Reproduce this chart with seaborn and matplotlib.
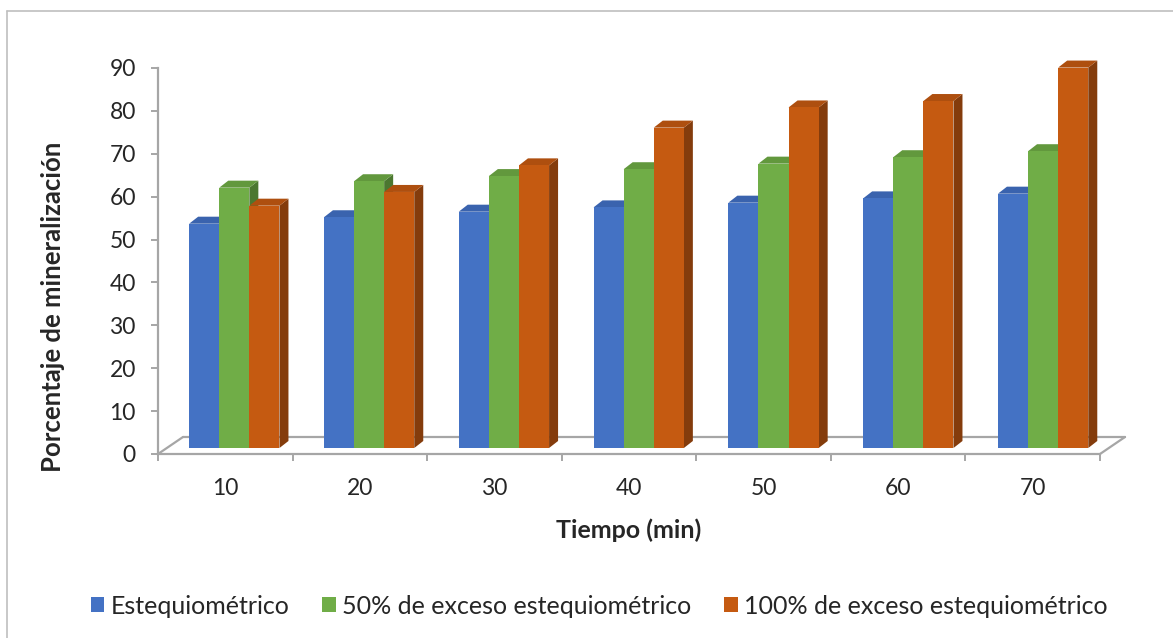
import numpy as np
import pandas as pd
import seaborn as sns
import matplotlib
matplotlib.use("Agg")
import matplotlib.pyplot as plt
from matplotlib.patches import Polygon, Patch
from matplotlib.lines import Line2D
from matplotlib.transforms import ScaledTranslation

# ---------------- data ----------------
tiempos = ["10", "20", "30", "40", "50", "60", "70"]
series = ["Estequiométrico", "50% de exceso estequiométrico", "100% de exceso estequiométrico"]
esteq = [52.3, 53.8, 55.1, 56.1, 57.2, 58.2, 59.3]
exc50 = [60.7, 62.2, 63.4, 65.0, 66.3, 67.8, 69.2]
exc100 = [56.5, 59.7, 65.9, 74.7, 79.4, 80.9, 88.7]
yticks = [0, 10, 20, 30, 40, 50, 60, 70, 80, 90]

front_cols = ["#4472C4", "#70AD47", "#C55A11"]
top_cols = ["#3A63AE", "#62983D", "#AE4F0F"]
side_cols = ["#2C4C86", "#4B7730", "#843C0C"]

df = pd.DataFrame({
    "Tiempo": tiempos * 3,
    "valor": esteq + exc50 + exc100,
    "Serie": [series[0]] * 7 + [series[1]] * 7 + [series[2]] * 7,
})

sns.set_style("white")
plt.rcParams["font.family"] = ["Lato", "DejaVu Sans"]

W, H = 1173, 638
fig = plt.figure(figsize=(W / 100, H / 100), dpi=100)
ax = fig.add_axes([158 / W, 1 - 454 / H, (1100 - 158) / W, (454 - 68) / H])

sns.barplot(data=df, x="Tiempo", y="valor", hue="Serie", hue_order=series,
            palette=front_cols, saturation=1, width=0.67, dodge=True,
            errorbar=None, legend=False, ax=ax, linewidth=0)

x0, x1 = -0.566, 6.422
ax.set_xlim(x0, x1)
ax.set_ylim(0, 90)
span = (x1 - x0) / 7

gray = "#A6A6A6"
for s in ["top", "right"]:
    ax.spines[s].set_visible(False)
for s in ["left", "bottom"]:
    ax.spines[s].set_color(gray)
    ax.spines[s].set_linewidth(1.6)

ax.set_yticks(yticks)
ax.set_yticklabels([str(v) for v in yticks])
ax.tick_params(axis="y", length=5, width=1.4, color=gray, pad=11, labelsize=16.5, left=True)
centers = [x0 + (k + 0.5) * span for k in range(7)]
bounds = [x0 + k * span for k in range(8)]
ax.set_xticks(centers)
ax.set_xticklabels(tiempos)
ax.set_xticks(bounds, minor=True)
ax.tick_params(axis="x", which="major", length=0, pad=17, labelsize=16.5)
ax.tick_params(axis="x", which="minor", length=5, width=1.4, color=gray, bottom=True)
ax.set_xlabel("")
ax.set_ylabel("")
ax.grid(False)

# 3D effect
px = 1 / 100.0
lift = ScaledTranslation(0, 6 * px, fig.dpi_scale_trans)
tr = ax.transData + lift
dx, dy = 9, 7
fig.canvas.draw()

# floor
fdx, fdy = 25, 17
p_fl = ax.transData.transform((x0, 0))
p_fr = ax.transData.transform((x1, 0))
floor = [(p_fl[0] + fdx, p_fl[1] + fdy), (p_fr[0] + fdx, p_fr[1] + fdy)]
for seg in [[p_fl, floor[0]], [floor[0], floor[1]], [p_fr, floor[1]]]:
    ln = Line2D([seg[0][0], seg[1][0]], [seg[0][1], seg[1][1]], color=gray, lw=1.6,
                transform=None, zorder=1)
    fig.add_artist(ln)

patches = sorted(ax.patches, key=lambda p: p.get_x())
col_of = {}
for i, s in enumerate(series):
    col_of[matplotlib.colors.to_hex(front_cols[i])] = i
for k, p in enumerate(patches):
    ci = col_of.get(matplotlib.colors.to_hex(p.get_facecolor()), 0)
    xl, xr = p.get_x(), p.get_x() + p.get_width()
    yb, yt = p.get_y(), p.get_y() + p.get_height()
    (dxl, dyb), (dxr, dyt) = tr.transform([(xl, yb), (xr, yt)])
    z = 3 + k * 0.01
    side = Polygon([(dxr, dyb), (dxr + dx, dyb + dy), (dxr + dx, dyt + dy), (dxr, dyt)],
                   closed=True, facecolor=side_cols[ci], edgecolor="none",
                   transform=None, zorder=z)
    top = Polygon([(dxl, dyt), (dxr, dyt), (dxr + dx, dyt + dy), (dxl + dx, dyt + dy)],
                  closed=True, facecolor=top_cols[ci], edgecolor="none",
                  transform=None, zorder=z + 0.001)
    fig.add_artist(side)
    fig.add_artist(top)
    p.set_transform(tr)
    p.set_zorder(z + 0.002)
    p.set_clip_on(False)
    p.remove()
    fig.add_artist(p)

# labels
fig.text(53 / W, 1 - 307 / H, "Porcentaje de mineralización", rotation=90,
         ha="center", va="center", fontsize=18.5, fontweight="bold")
fig.text(629 / W, 1 - 530 / H, "Tiempo (min)", ha="center", va="center",
         fontsize=18, fontweight="bold")

handles = [Patch(facecolor=c, edgecolor="none") for c in front_cols]
fig.legend(handles, series, loc="center", bbox_to_anchor=(599 / W, 1 - 606 / H),
           ncol=3, frameon=False, fontsize=18, handlelength=0.55, handleheight=0.55,
           handletextpad=0.25, columnspacing=1.3)

# outer border (top and left visible)
fig.add_artist(Line2D([7, 7], [0, H - 11], color="#BFBFBF", lw=1.2, transform=None))
fig.add_artist(Line2D([7, W], [H - 11, H - 11], color="#BFBFBF", lw=1.2, transform=None))

fig.savefig("out.png", dpi=100)
